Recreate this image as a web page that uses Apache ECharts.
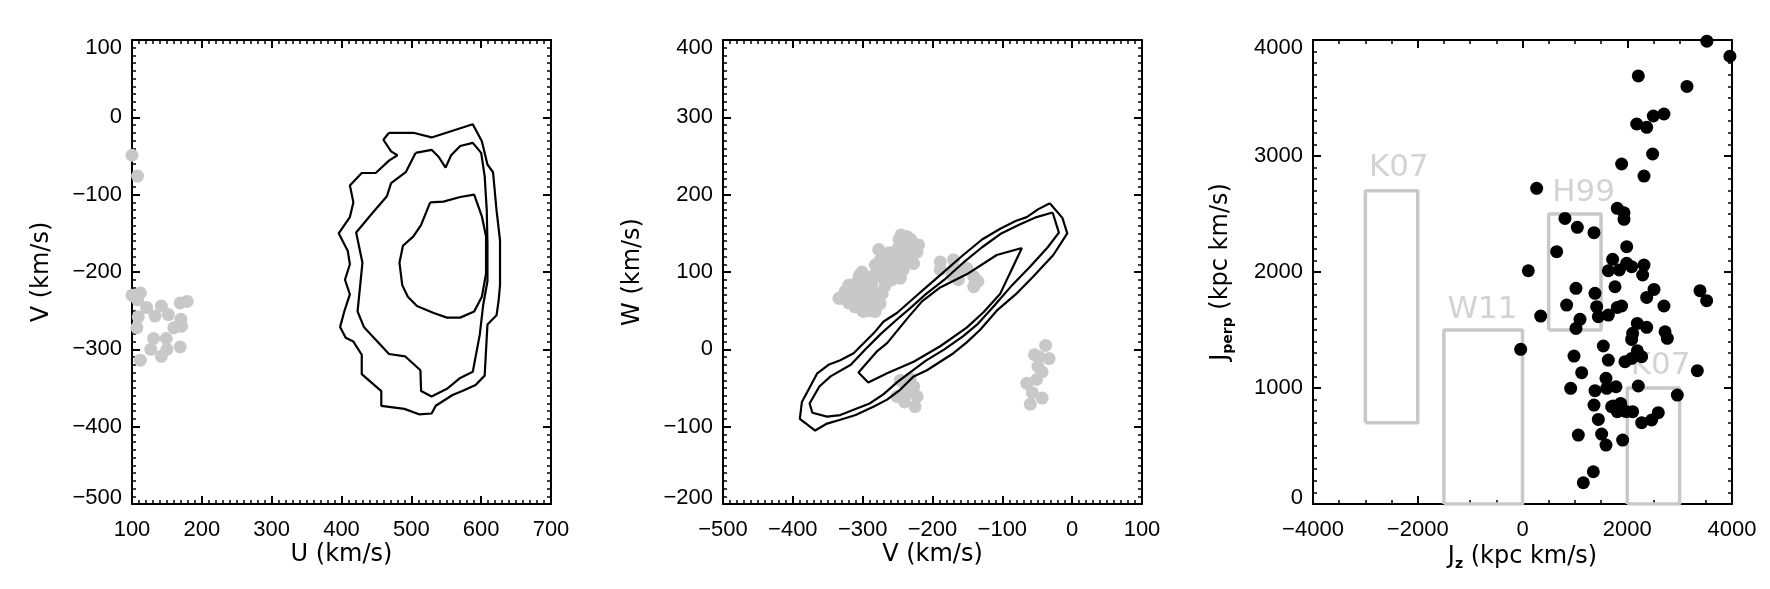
<!DOCTYPE html>
<html>
<head>
<meta charset="utf-8">
<title>U-V, V-W and Jz-Jperp planes</title>
<script src="https://cdn.jsdelivr.net/npm/echarts/dist/echarts.min.js"></script>
<style>
  html, body { margin: 0; padding: 0; background: #fff; }
  #main { width: 1770px; height: 589px; }
</style>
</head>
<body>
<div id="main"></div>
<script>
// ---------- panel 1 : U - V ----------
const uvStars = [[100,-49],[108,-76],[100,-230],[112,-227],[108,-236],[121,-246],[109,-258],[107,-272],
  [142,-244],[133,-257],[152,-255],[169,-240],[179,-238],[170,-261],[171,-270],[160,-272],[131,-286],
  [149,-286],[127,-300],[150,-300],[169,-297],[142,-309],[112,-314]];

const uvContourOuter = [[468,-20],[503,-20],[529,-26],[588,-9],[601,-31],[609,-61],[617,-71],[622,-120],
  [627,-159],[627,-217],[625,-237],[622,-256],[609,-268],[605,-334],[592,-346],[573,-354],[559,-359],
  [535,-373],[529,-383],[511,-384],[490,-377],[457,-373],[457,-354],[429,-332],[429,-307],[417,-290],
  [406,-285],[398,-271],[404,-251],[412,-229],[405,-210],[412,-190],[409,-173],[396,-150],[412,-129],
  [417,-110],[412,-88],[429,-72],[449,-72],[468,-56],[480,-49],[471,-44],[460,-29],[468,-20]];

const uvContourMiddle = [[506,-46],[529,-42],[539,-51],[549,-65],[557,-49],[570,-37],[588,-33],[600,-46],
  [605,-76],[608,-120],[609,-163],[609,-212],[603,-242],[598,-281],[588,-329],[570,-337],[551,-351],
  [529,-361],[514,-354],[513,-327],[491,-309],[468,-306],[432,-271],[423,-251],[430,-188],[421,-149],
  [444,-124],[465,-102],[471,-85],[492,-71],[506,-46]];

const uvContourInner = [[527,-110],[546,-109],[570,-103],[590,-100],[601,-128],[607,-154],[607,-202],
  [601,-232],[590,-251],[570,-259],[551,-259],[532,-253],[508,-244],[495,-232],[487,-217],[483,-188],
  [488,-166],[503,-154],[514,-139],[527,-110]];

// ---------- panel 2 : V - W ----------
const vwStars = [
  // big clump
  [-277,129],[-232,141],[-222,126],[-246,137],[-237,116],[-251,120],[-227,111],[-263,111],[-265,103],
  [-282,109],[-301,100],[-318,83],[-330,66],[-311,55],[-299,49],[-282,49],[-275,59],[-272,72],[-287,85],
  [-258,90],[-246,92],[-270,94],[-294,70],[-308,70],[-334,66],[-320,83],[-280,107],[-248,142],[-231,142],
  [-226,127],[-256,112],[-242,103],[-264,90],[-280,73],[-312,58],[-317,73],[-291,78],[-307,88],[-272,93],
  [-258,122],[-242,129],[-229,134],[-290,60],[-300,80],[-285,95],[-260,100],[-240,120],[-237,146],
  [-250,130],[-235,128],[-245,110],[-255,100],[-268,82],[-285,70],[-300,62],[-315,65],[-325,75],
  [-295,90],[-305,95],[-275,115],[-262,125],[-230,120],[-220,135],[-245,148],[-300,50],[-290,50],
  [-320,60],
  // group near the contours
  [-189,113],[-170,116],[-158,103],[-141,94],[-141,81],[-172,96],[-189,103],[-163,90],[-151,105],
  [-135,88],[-170,103],
  // group below
  [-241,-44],[-227,-48],[-237,-57],[-225,-74],[-251,-61],[-246,-40],[-232,-38],[-222,-61],[-240,-68],
  // group on the right
  [-38,5],[-54,-7],[-33,-12],[-49,-22],[-43,-29],[-51,-39],[-65,-44],[-57,-56],[-60,-71],[-43,-63],[-47,-10]];

const vwContourOuter = [[-32,189],[-14,170],[-7,150],[-27,122],[-57,93],[-81,71],[-108,50],[-132,25],
  [-151,9],[-170,-5],[-189,-16],[-208,-27],[-227,-35],[-246,-52],[-265,-65],[-284,-74],[-310,-85],
  [-332,-91],[-351,-96],[-368,-105],[-390,-90],[-387,-68],[-365,-31],[-349,-20],[-332,-14],[-313,-5],
  [-284,21],[-270,36],[-251,47],[-227,66],[-208,81],[-189,96],[-156,122],[-129,142],[-103,156],
  [-81,166],[-65,171],[-49,181],[-32,189]];

const vwContourMiddle = [[-28,177],[-19,151],[-35,132],[-60,107],[-86,83],[-111,57],[-135,33],
  [-156,17],[-183,0],[-210,-15],[-231,-29],[-250,-42],[-270,-58],[-290,-70],[-313,-78],[-332,-85],
  [-351,-87],[-372,-82],[-376,-70],[-362,-48],[-346,-35],[-317,-20],[-296,0],[-274,20],[-253,37],
  [-231,54],[-210,71],[-183,90],[-156,112],[-129,132],[-103,149],[-76,161],[-51,171],[-28,177]];

const vwContourInner = [[-72,131],[-82,112],[-103,72],[-127,48],[-151,28],[-189,4],[-227,-16],
  [-265,-31],[-292,-43],[-306,-30],[-280,-3],[-265,8],[-236,40],[-215,62],[-189,80],[-151,97],
  [-108,122],[-72,131]];

// ---------- panel 3 : Jz - Jperp ----------
const orbitStars = [[3520,3990],[3960,3860],[3140,3600],[2211,3690],[2180,3276],[2371,3247],[2498,3345],
  [2701,3362],[2485,3017],[1893,2931],[2320,2827],[270,2721],[1810,2549],[1938,2511],[1938,2454],
  [811,2462],[1047,2385],[1365,2339],[652,2175],[1989,2218],[1721,2109],[1639,2011],[1849,2017],
  [1989,2075],[2084,2046],[2320,2060],[2294,1974],[111,2011],[1766,1873],[1021,1859],[1384,1816],
  [2511,1850],[2371,1781],[2701,1707],[3389,1839],[3516,1753],[843,1715],[347,1620],[1416,1701],
  [1448,1615],[1639,1629],[1810,1695],[1893,1707],[1098,1592],[1021,1514],[2192,1557],[2371,1523],
  [2103,1471],[2084,1419],[2721,1485],[2765,1428],[-35,1333],[1543,1362],[983,1275],[1639,1241],
  [1957,1227],[2084,1255],[2192,1321],[2275,1270],[3338,1149],[1130,1132],[1594,1083],[920,997],
  [1384,977],[1607,997],[1785,1011],[2211,1017],[2956,939],[1365,853],[1702,839],[1810,796],[1874,867],
  [2103,796],[2275,701],[2466,724],[2593,787],[1448,729],[1066,594],[1511,603],[1594,508],[1912,551],
  [1352,278],[1161,183],[1730,845],[1980,797]];

const boxNames = ['K07', 'W11', 'H99', 'K07'];
const boxJzMin = [-3000, -1500, 500, 2000];
const boxJzMax = [-2000, 0, 1500, 3000];
const boxJpMin = [700, 0, 1500, 0];
const boxJpMax = [2700, 1500, 2500, 1000];
const boxLabelJp = [2894, 1675, 2680, 1187];

// ---------- style ----------
const FONT_TICK = 'Liberation Sans';
const FONT_NAME = 'DejaVu Sans';
const GREY = '#c8c8c8';

function minus(v) {
  return String(v).replace('-', '\u2212');
}

function nameStyle() {
  return {
    color: '#000', fontFamily: FONT_NAME, fontSize: 24,
    rich: {
      a: { color: '#000', fontFamily: FONT_NAME, fontSize: 24, lineHeight: 28 },
      sub: { color: '#000', fontFamily: FONT_NAME, fontSize: 14, fontWeight: 'bold', lineHeight: 16, verticalAlign: 'bottom' }
    }
  };
}

function baseAxis(grid, min, max, step, minor) {
  return {
    gridIndex: grid, type: 'value', min: min, max: max, interval: step,
    splitLine: { show: false },
    axisLine: { show: true, onZero: false, lineStyle: { color: '#000', width: 2 } },
    axisTick: { show: true, inside: true, length: 8, lineStyle: { color: '#000', width: 2 } },
    minorTick: { show: true, splitNumber: minor, length: 4, lineStyle: { color: '#000', width: 1.5 } },
    axisLabel: { show: false }
  };
}

function makeX(grid, min, max, step, minor, name) {
  const bottom = Object.assign(baseAxis(grid, min, max, step, minor), {
    position: 'bottom', name: name, nameLocation: 'middle', nameGap: 39, nameMoveOverlap: false,
    nameTextStyle: nameStyle(),
    axisLabel: {
      show: true, margin: 15, color: '#000', fontFamily: FONT_TICK, fontSize: 22,
      showMinLabel: true, showMaxLabel: true, hideOverlap: false, formatter: minus
    }
  });
  const top = Object.assign(baseAxis(grid, min, max, step, minor), { position: 'top' });
  return [bottom, top];
}

function makeY(grid, min, max, step, minor, name) {
  const left = Object.assign(baseAxis(grid, min, max, step, minor), {
    position: 'left', name: name, nameLocation: 'middle', nameGap: 78, nameMoveOverlap: false,
    nameTextStyle: nameStyle(),
    axisLabel: {
      show: true, margin: 10, color: '#000', fontFamily: FONT_TICK, fontSize: 22,
      showMinLabel: true, showMaxLabel: true, hideOverlap: false,
      formatter: function (v) {
        if (v === max) return '{hi|' + minus(v) + '}';
        if (v === min) return '{lo|' + minus(v) + '}';
        return minus(v);
      },
      rich: {
        hi: { color: '#000', fontFamily: FONT_TICK, fontSize: 22, padding: [16, 0, 0, 0] },
        lo: { color: '#000', fontFamily: FONT_TICK, fontSize: 22, padding: [0, 0, 12, 0] }
      }
    }
  });
  const right = Object.assign(baseAxis(grid, min, max, step, minor), { position: 'right' });
  return [left, right];
}

function dots(grid, data, color, size) {
  return {
    type: 'scatter', xAxisIndex: grid * 2, yAxisIndex: grid * 2, data: data,
    symbol: 'circle', symbolSize: size, itemStyle: { color: color, opacity: 1 },
    clip: true, silent: true, z: 2
  };
}

function contour(grid, data) {
  return {
    type: 'line', xAxisIndex: grid * 2, yAxisIndex: grid * 2, data: data,
    showSymbol: false, symbol: 'none', clip: true, silent: true, z: 3,
    lineStyle: { color: '#000', width: 2.2 }
  };
}

const chart = echarts.init(document.getElementById('main'), null, { renderer: 'canvas' });

const boxSeries = boxNames.map(function (n, i) {
  return {
    type: 'line', xAxisIndex: 4, yAxisIndex: 4, silent: true, z: 1,
    showSymbol: false, symbol: 'none', clip: true,
    lineStyle: { color: GREY, width: 3.5 },
    data: [[boxJzMin[i], boxJpMin[i]], [boxJzMax[i], boxJpMin[i]], [boxJzMax[i], boxJpMax[i]],
           [boxJzMin[i], boxJpMax[i]], [boxJzMin[i], boxJpMin[i]]]
  };
});

const boxLabels = {
  type: 'scatter', xAxisIndex: 4, yAxisIndex: 4, silent: true, z: 1,
  symbolSize: 1, itemStyle: { color: 'rgba(0,0,0,0)' },
  data: boxNames.map(function (n, i) { return [boxJzMin[i], boxLabelJp[i], n]; }),
  label: {
    show: true, position: 'right', distance: 3,
    color: GREY, fontFamily: FONT_NAME, fontSize: 31,
    formatter: function (p) { return p.data[2]; }
  }
};

const xs = [].concat(
  makeX(0, 100, 700, 100, 10, 'U (km/s)'),
  makeX(1, -500, 100, 100, 10, 'V (km/s)'),
  makeX(2, -4000, 4000, 2000, 4, '{a|J}{sub|z}{a| (kpc km/s)}')
);
const ys = [].concat(
  makeY(0, -500, 100, 100, 10, 'V (km/s)'),
  makeY(1, -200, 400, 100, 10, 'W (km/s)'),
  makeY(2, 0, 4000, 1000, 10, '{a|J}{sub|perp}{a| (kpc km/s)}')
);

const option = {
  animation: false,
  backgroundColor: '#fff',
  grid: [
    { left: 132, top: 40, width: 419, height: 464, outerBoundsMode: 'none' },
    { left: 723, top: 40, width: 419, height: 464, outerBoundsMode: 'none' },
    { left: 1313, top: 40, width: 419, height: 464, outerBoundsMode: 'none' }
  ],
  xAxis: xs,
  yAxis: ys,
  series: [
    dots(0, uvStars, GREY, 13),
    contour(0, uvContourOuter),
    contour(0, uvContourMiddle),
    contour(0, uvContourInner),
    dots(1, vwStars, GREY, 13),
    contour(1, vwContourOuter),
    contour(1, vwContourMiddle),
    contour(1, vwContourInner)
  ].concat(boxSeries, [boxLabels, Object.assign(dots(2, orbitStars, '#000', 13), { z: 3 })])
};

chart.setOption(option);
</script>
</body>
</html>
